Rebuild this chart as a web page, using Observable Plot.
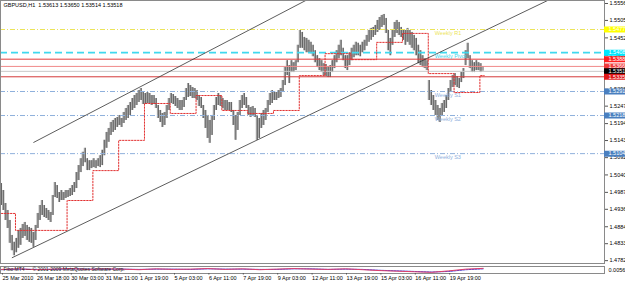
<!DOCTYPE html>
<html><head><meta charset="utf-8">
<script src="https://cdn.jsdelivr.net/npm/d3@7"></script>
<script src="https://cdn.jsdelivr.net/npm/@observablehq/plot@0.6"></script>
<style>
body{margin:0;background:#fff;width:625px;height:282px;overflow:hidden}
#chart svg{display:block;overflow:visible}
</style></head><body><div id="chart"></div>
<script>
// Hourly GBPUSD candles, sampled every 2 bars: highs and lows
const highs=[
1.5014,1.4993,1.4954,1.4933,1.4903,1.4858,1.4837,1.4849,1.4873,1.4879,
1.4891,1.4897,1.4888,1.4882,1.4879,1.4867,1.4888,1.4924,1.4948,1.4963,
1.4948,1.4939,1.4933,1.4927,1.4978,1.5017,1.5008,1.4987,1.4993,1.4987,
1.4993,1.4993,1.4999,1.5008,1.5017,1.5047,1.5068,1.5089,1.5108,1.5120,
1.5089,1.5083,1.5083,1.5089,1.5083,1.5089,1.5098,1.5114,1.5144,1.5168,
1.5180,1.5198,1.5204,1.5210,1.5213,1.5219,1.5210,1.5228,1.5240,1.5249,
1.5258,1.5270,1.5279,1.5285,1.5294,1.5300,1.5288,1.5285,1.5288,1.5285,
1.5279,1.5279,1.5270,1.5249,1.5234,1.5225,1.5228,1.5249,1.5270,1.5285,
1.5282,1.5276,1.5270,1.5264,1.5264,1.5273,1.5300,1.5315,1.5309,1.5303,
1.5300,1.5294,1.5279,1.5273,1.5249,1.5234,1.5219,1.5204,1.5219,1.5249,
1.5273,1.5285,1.5279,1.5270,1.5264,1.5264,1.5258,1.5258,1.5234,1.5219,
1.5228,1.5264,1.5279,1.5285,1.5273,1.5249,1.5243,1.5246,1.5240,1.5219,
1.5210,1.5225,1.5234,1.5240,1.5264,1.5285,1.5294,1.5291,1.5288,1.5294,
1.5300,1.5324,1.5363,1.5384,1.5369,1.5384,1.5378,1.5384,1.5430,1.5475,
1.5469,1.5454,1.5451,1.5445,1.5439,1.5430,1.5414,1.5399,1.5390,1.5384,
1.5375,1.5372,1.5366,1.5369,1.5384,1.5399,1.5414,1.5430,1.5445,1.5421,
1.5399,1.5399,1.5408,1.5421,1.5430,1.5439,1.5436,1.5430,1.5439,1.5445,
1.5460,1.5475,1.5481,1.5484,1.5490,1.5505,1.5514,1.5520,1.5523,1.5511,
1.5475,1.5451,1.5475,1.5499,1.5505,1.5499,1.5484,1.5475,1.5475,1.5481,
1.5475,1.5469,1.5460,1.5451,1.5430,1.5414,1.5399,1.5390,1.5384,1.5324,
1.5294,1.5279,1.5264,1.5249,1.5240,1.5255,1.5264,1.5279,1.5300,1.5324,
1.5339,1.5345,1.5336,1.5330,1.5348,1.5360,1.5414,1.5436,1.5399,1.5384,
1.5378,1.5384,1.5378,1.5375,1.5366];
const lows=[
1.4948,1.4933,1.4903,1.4879,1.4834,1.4812,1.4797,1.4806,1.4819,1.4828,
1.4849,1.4855,1.4843,1.4837,1.4834,1.4822,1.4843,1.4879,1.4903,1.4918,
1.4912,1.4909,1.4903,1.4897,1.4918,1.4972,1.4969,1.4957,1.4963,1.4963,
1.4969,1.4972,1.4975,1.4978,1.4987,1.4999,1.5023,1.5047,1.5065,1.5077,
1.5053,1.5053,1.5059,1.5062,1.5059,1.5065,1.5062,1.5068,1.5098,1.5120,
1.5138,1.5159,1.5168,1.5174,1.5183,1.5189,1.5183,1.5195,1.5204,1.5210,
1.5219,1.5234,1.5240,1.5249,1.5258,1.5264,1.5252,1.5252,1.5255,1.5255,
1.5249,1.5252,1.5240,1.5210,1.5198,1.5183,1.5189,1.5210,1.5234,1.5255,
1.5252,1.5246,1.5240,1.5234,1.5234,1.5243,1.5264,1.5273,1.5276,1.5270,
1.5270,1.5264,1.5246,1.5240,1.5210,1.5180,1.5150,1.5135,1.5159,1.5204,
1.5234,1.5249,1.5246,1.5240,1.5234,1.5234,1.5234,1.5228,1.5189,1.5144,
1.5174,1.5219,1.5240,1.5249,1.5240,1.5219,1.5213,1.5216,1.5213,1.5144,
1.5150,1.5180,1.5189,1.5204,1.5228,1.5249,1.5255,1.5264,1.5264,1.5270,
1.5273,1.5288,1.5309,1.5339,1.5315,1.5348,1.5348,1.5354,1.5378,1.5421,
1.5421,1.5414,1.5408,1.5408,1.5405,1.5396,1.5378,1.5363,1.5354,1.5348,
1.5339,1.5336,1.5333,1.5333,1.5348,1.5360,1.5378,1.5390,1.5399,1.5384,
1.5360,1.5354,1.5369,1.5384,1.5393,1.5399,1.5399,1.5396,1.5408,1.5414,
1.5427,1.5439,1.5445,1.5454,1.5460,1.5469,1.5475,1.5484,1.5490,1.5466,
1.5414,1.5399,1.5430,1.5454,1.5466,1.5460,1.5454,1.5445,1.5430,1.5439,
1.5430,1.5421,1.5414,1.5399,1.5375,1.5369,1.5363,1.5360,1.5354,1.5264,
1.5249,1.5234,1.5219,1.5204,1.5198,1.5219,1.5228,1.5240,1.5264,1.5288,
1.5303,1.5309,1.5303,1.5300,1.5318,1.5330,1.5369,1.5390,1.5360,1.5348,
1.5348,1.5354,1.5354,1.5348,1.5352];

// Weekly pivot levels
const levelNames=["Weekly R1","Weekly Pivot","Weekly S1","Weekly S2","Weekly S3"];
const levelValues=[1.54777,1.54081,1.52911,1.52188,1.51041];
const levelColors=["#ece45a","#3fd8ee","#8fb0dc","#8fb0dc","#8fb0dc"];
const levelBoxColors=["#ffff00","#00e8ff","#4a7fbf","#4a7fbf","#4a7fbf"];

// Other horizontal price lines (red levels, bid)
const lineValues=[1.53884,1.53666,1.53518,1.53354];
const lineColors=["#e23b3b","#f08a8a","#c8c8c8","#d43a3a"];
const lineBoxColors=["#ff2020","#f03c3c","#000000","#e01818"];

// Red dotted daily step line
const stepBars=[0,13,61,85,109,133,157,181,205,229,253,277,301,325,349,373,397,421,445,449];
const stepValues=[1.4924,1.4873,1.4963,1.5053,1.5144,1.5255,1.5225,1.5279,1.5234,1.5225,1.5234,1.5339,1.5405,1.5387,1.5439,1.5466,1.5345,1.5288,1.5339,1.5339];

// Channel lines
const upperBars=[30,283], upperValues=[1.5138,1.5565];
const lowerBars=[10,508], lowerValues=[1.4791,1.5565];

// Price axis ticks
const yTicks=[1.55560,1.55050,1.54525,1.54000,1.53490,1.52980,1.52470,1.51945,1.51435,1.50920,1.50400,1.49875,1.49365,1.48840,1.48330,1.47820];

// Time axis
const xTickBars=[0,32,64,96,128,160,192,224,256,288,320,352,384,416];
const xTickLabels=["25 Mar 2010","26 Mar 18:00","30 Mar 03:00","31 Mar 11:00","1 Apr 19:00","5 Apr 03:00","6 Apr 11:00","7 Apr 19:00","9 Apr 03:00","12 Apr 11:00","13 Apr 19:00","15 Apr 03:00","16 Apr 11:00","19 Apr 19:00"];

// Indicator sub-window (every 16 bars)
const indBars=[0,16,32,48,64,80,96,112,128,144,160,176,192,208,224,240,256,272,288,304,320,336,352,368,384,400,416,432,448];
const indMain=[0.002,0.004,0.001,0.003,0.005,0.002,0.004,0.003,0.001,0.004,0.002,0.003,0.005,0.002,0.004,0.001,0.003,0.005,0.003,0.002,0.004,0.001,-0.002,-0.004,-0.006,-0.008,-0.003,0.003,0.00566];
const indSignal=[0.001,0.003,0.002,0.002,0.004,0.003,0.003,0.003,0.002,0.003,0.003,0.002,0.004,0.003,0.003,0.002,0.002,0.004,0.004,0.002,0.003,0.002,-0.001,-0.003,-0.005,-0.007,-0.005,0.001,0.004];

const title="GBPUSD,H1  1.53613 1.53650 1.53514 1.53518";
const fontFamily="Liberation Sans, Arial, sans-serif";

const candles=highs.map((h,k)=>({bar:2*k,high:h,low:lows[k]}));
const levels=levelNames.map((n,i)=>({name:n,value:levelValues[i],color:levelColors[i],box:levelBoxColors[i]}));
const others=lineValues.map((v,i)=>({value:v,color:lineColors[i],box:lineBoxColors[i]}));
const boxes=[...levels.map(d=>({value:d.value,box:d.box})),...others.map(d=>({value:d.value,box:d.box}))];
const steps=stepBars.map((b,i)=>({bar:b,value:stepValues[i]}));
const upper=upperBars.map((b,i)=>({bar:b,value:upperValues[i]}));
const lower=lowerBars.map((b,i)=>({bar:b,value:lowerValues[i]}));

const xDomain=[-0.93,560.93];
const xMax=xDomain[1];

const main=Plot.plot({
  width:625,height:263,marginLeft:0,marginRight:21,marginTop:0,marginBottom:0,
  style:{fontFamily,fontSize:"5.5px",background:"#fff",color:"#000",overflow:"visible"},
  x:{domain:xDomain,axis:null},
  y:{domain:[1.47734,1.5565],axis:null},
  marks:[
    Plot.areaY(candles,{x:"bar",y1:"low",y2:"high",fill:"#a8a8a8",curve:"step"}),
    Plot.ruleX(candles,{x:"bar",y1:"low",y2:"high",stroke:"#5e5e5e",strokeWidth:0.9}),
    Plot.ruleY(levels.filter(d=>d.name!=="Weekly Pivot"),{y:"value",stroke:d=>d.color,strokeWidth:1,strokeDasharray:"5,2,1,2"}),
    Plot.ruleY(levels.filter(d=>d.name==="Weekly Pivot"),{y:"value",stroke:d=>d.color,strokeWidth:1.6,strokeDasharray:"7,4"}),
    Plot.ruleY(others,{y:"value",stroke:d=>d.color,strokeWidth:1}),
    Plot.line(steps,{x:"bar",y:"value",curve:"step-after",stroke:"#e23030",strokeWidth:1,strokeDasharray:"1.5,1.5"}),
    Plot.line(upper,{x:"bar",y:"value",stroke:"#333",strokeWidth:0.8}),
    Plot.line(lower,{x:"bar",y:"value",stroke:"#333",strokeWidth:0.8}),
    Plot.text(levels,{x:403,y:"value",text:"name",fill:d=>d.color,dy:3.5,textAnchor:"start",lineAnchor:"middle",fontSize:5.5}),
    Plot.frame({stroke:"#8a8a8a"}),
    Plot.axisY({anchor:"right",label:null,ticks:yTicks,tickFormat:d=>d.toFixed(5),tickSize:3,tickPadding:2,fontSize:5.5,stroke:"#555"}),
    Plot.ruleY(boxes,{y:"value",x1:xMax,x2:xMax+30,stroke:d=>d.box,strokeWidth:6}),
    Plot.text(boxes,{x:xMax,y:"value",text:d=>d.value.toFixed(5),fill:"#ffffff",dx:4,textAnchor:"start",fontSize:5.5}),
    Plot.text([title],{frameAnchor:"top-left",dx:3,dy:3,textAnchor:"start",lineAnchor:"top",fontSize:5.5,fill:"#000"})
  ]
});

const labelMap=new Map(xTickBars.map((b,i)=>[b,xTickLabels[i]]));
const ind=Plot.plot({
  width:625,height:19,marginLeft:0,marginRight:21,marginTop:3,marginBottom:9,
  style:{fontFamily,fontSize:"5.5px",background:"#fff",color:"#000",overflow:"visible"},
  x:{domain:xDomain,axis:null},
  y:{domain:[-0.012,0.012],axis:null},
  marks:[
    Plot.line(indBars.map((b,i)=>({bar:b,v:indSignal[i]})),{x:"bar",y:"v",stroke:"#3a3ad8",strokeWidth:1,strokeDasharray:"2,1"}),
    Plot.line(indBars.map((b,i)=>({bar:b,v:indMain[i]})),{x:"bar",y:"v",stroke:"#e0406a",strokeWidth:1}),
    Plot.frame({stroke:"#8a8a8a"}),
    Plot.text(["Fibo MT4 — © 2001-2009 MetaQuotes Software Corp."],{frameAnchor:"top-left",dx:3,dy:0.5,textAnchor:"start",lineAnchor:"top",fontSize:5,fill:"#222"}),
    Plot.text(["0.00566"],{frameAnchor:"right",dx:4,textAnchor:"start",fontSize:5.5,fill:"#000"}),
    Plot.axisX({anchor:"bottom",label:null,ticks:xTickBars,tickFormat:d=>labelMap.get(d),tickSize:1.5,tickPadding:1,textAnchor:"start",dx:1,fontSize:5.5,stroke:"#555"})
  ]
});

const el=document.getElementById("chart");
el.appendChild(main);
el.appendChild(ind);
</script>
</body></html>
